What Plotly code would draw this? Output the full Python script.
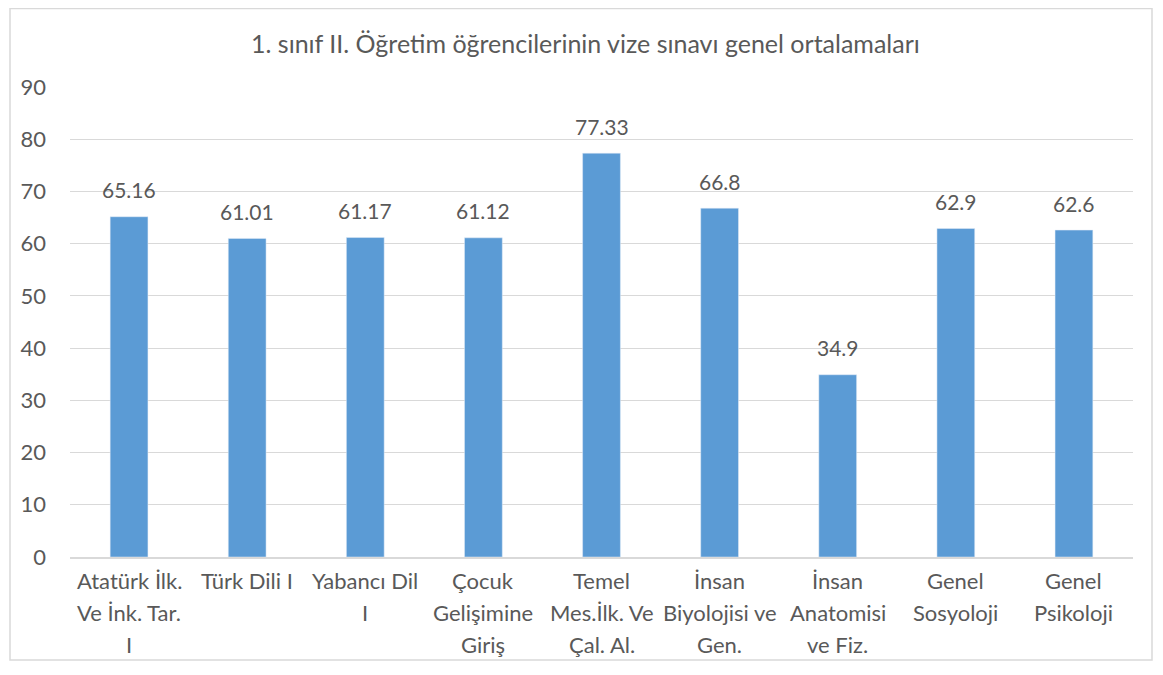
import plotly.graph_objects as go

categories = ["Atatürk İlk.<br>Ve İnk. Tar.<br>I", "Türk Dili I", "Yabancı Dil<br>I",
              "Çocuk<br>Gelişimine<br>Giriş", "Temel<br>Mes.İlk. Ve<br>Çal. Al.",
              "İnsan<br>Biyolojisi ve<br>Gen.", "İnsan<br>Anatomisi<br>ve Fiz.",
              "Genel<br>Sosyoloji", "Genel<br>Psikoloji"]
values = [65.16, 61.01, 61.17, 61.12, 77.33, 66.8, 34.9, 62.9, 62.6]
value_labels = ["65.16", "61.01", "61.17", "61.12", "77.33", "66.8", "34.9", "62.9", "62.6"]
y_ticks = [0, 10, 20, 30, 40, 50, 60, 70, 80, 90]
title = "1. sınıf II. Öğretim öğrencilerinin vize sınavı genel ortalamaları"

# page body has an 8px default margin; figure coords = screen coords - 8
W, H = 1155, 667
ml, mr, mt, mb = 62, 30, 79, 118
pw, ph = W - ml - mr, H - mt - mb
FONT = "Lato, Open Sans, sans-serif"
GREY = "#595959"
FS = 22

xs = list(range(len(categories)))
fig = go.Figure(go.Bar(
    x=xs, y=values, marker_color="#5B9BD5", width=0.32,
))

annotations = []
for i, (v, lab) in enumerate(zip(values, value_labels)):
    annotations.append(dict(
        x=i, xref="x", y=v, yref="y", text=lab, showarrow=False,
        xanchor="center", yanchor="middle", yshift=27,
        font=dict(size=21, color=GREY, family=FONT)))
for i, c in enumerate(categories):
    for j, line in enumerate(c.split("<br>")):
        annotations.append(dict(
            x=i, xref="x", y=-(23 + 32 * j) / ph, yref="paper",
            text=line, showarrow=False, xanchor="center", yanchor="middle",
            font=dict(size=FS, color=GREY, family=FONT)))
annotations.append(dict(
    x=(585 - 8 - ml) / pw, xref="paper", y=1 + (79 - 35) / ph, yref="paper",
    text=title, showarrow=False, xanchor="center", yanchor="middle",
    font=dict(size=25, color=GREY, family=FONT)))

fig.update_layout(
    width=W, height=H,
    margin=dict(l=ml, r=mr, t=mt, b=mb),
    paper_bgcolor="white", plot_bgcolor="white",
    showlegend=False,
    xaxis=dict(range=[-0.5, len(categories) - 0.5], showticklabels=False,
               showgrid=False, zeroline=False, showline=True,
               linecolor="#D9D9D9", linewidth=1.5, ticks=""),
    yaxis=dict(range=[0, 90], tickvals=y_ticks, showgrid=True,
               gridcolor="#D9D9D9", gridwidth=1, zeroline=False,
               showline=False, ticks="", ticklabelstandoff=23,
               tickfont=dict(size=FS, color=GREY, family=FONT)),
    annotations=annotations,
    shapes=[dict(type="rect", xref="paper", yref="paper",
                 x0=(2 - ml) / pw, x1=(1144 - ml) / pw,
                 y0=1 - (652 - mt) / ph, y1=1 - (0.5 - mt) / ph,
                 line=dict(color="#D9D9D9", width=1.5), fillcolor="rgba(0,0,0,0)",
                 layer="below")],
)

fig.write_html("out.html")
